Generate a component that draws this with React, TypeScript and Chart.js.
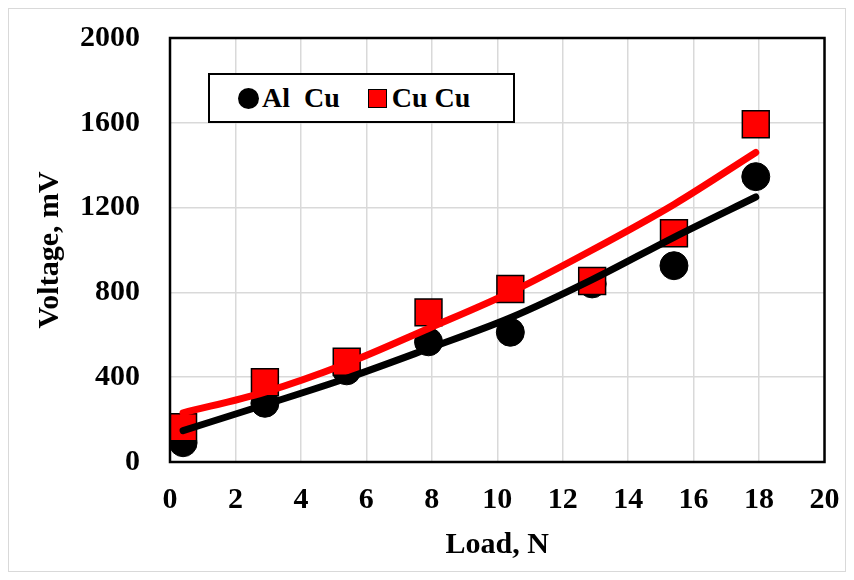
import React, { useEffect, useRef } from "react";
import { Chart, registerables } from "chart.js";

Chart.register(...registerables);

const loads = [0.4, 2.9, 5.4, 7.9, 10.4, 12.9, 15.4, 17.9];
const alCu = [91, 277, 430, 567, 612, 840, 926, 1346];
const cuCu = [164, 376, 473, 706, 816, 854, 1079, 1593];
const alCuTrend = [148, 270, 395, 535, 680, 860, 1060, 1250];
const cuCuTrend = [232, 330, 465, 630, 800, 1000, 1215, 1460];
const xTicks = [0, 2, 4, 6, 8, 10, 12, 14, 16, 18, 20];
const yTicks = [0, 400, 800, 1200, 1600, 2000];

const FONT = "'Liberation Serif', 'Times New Roman', serif";

const pts = (xs: number[], ys: number[]) => xs.map((x, i) => ({ x, y: ys[i] }));

const borderPlugin = {
  id: "plotBorder",
  afterDatasetsDraw(chart: any) {
    const { ctx, chartArea } = chart;
    ctx.save();
    ctx.strokeStyle = "#000";
    ctx.lineWidth = 2.5;
    ctx.strokeRect(chartArea.left, chartArea.top, chartArea.right - chartArea.left, chartArea.bottom - chartArea.top);
    ctx.restore();
  },
};

export default function App() {
  const ref = useRef<HTMLCanvasElement>(null);
  useEffect(() => {
    if (!ref.current) return;
    const chart = new Chart(ref.current, {
      type: "scatter",
      data: {
        datasets: [
          {
            label: "Al  Cu",
            data: pts(loads, alCu),
            pointStyle: "circle",
            pointRadius: 14,
            pointBackgroundColor: "#000",
            pointBorderColor: "#000",
            showLine: false,
            order: 4,
          },
          {
            label: "Cu Cu",
            data: pts(loads, cuCu),
            pointStyle: "rect",
            pointRadius: 19,
            pointBackgroundColor: "#ff0000",
            pointBorderColor: "#000",
            pointBorderWidth: 1.5,
            showLine: false,
            order: 3,
          },
          {
            label: "Al Cu trend",
            data: pts(loads, alCuTrend),
            showLine: true,
            borderColor: "#000",
            borderWidth: 7,
            borderCapStyle: "round",
            pointRadius: 0,
            cubicInterpolationMode: "monotone",
            order: 2,
          },
          {
            label: "Cu Cu trend",
            data: pts(loads, cuCuTrend),
            showLine: true,
            borderColor: "#ff0000",
            borderWidth: 7,
            borderCapStyle: "round",
            pointRadius: 0,
            cubicInterpolationMode: "monotone",
            order: 1,
          },
        ],
      } as any,
      options: {
        animation: false,
        responsive: false,
        maintainAspectRatio: false,
        layout: { padding: { top: 29, right: 18, left: 0, bottom: 0 } },
        plugins: { legend: { display: false }, tooltip: { enabled: false } },
        scales: {
          x: {
            type: "linear",
            min: 0,
            max: 20,
            afterBuildTicks: (s: any) => {
              s.ticks = xTicks.map((v) => ({ value: v }));
            },
            afterFit: (s: any) => {
              s.height = 109;
              s.paddingLeft = 0;
              s.paddingRight = 0;
            },
            ticks: {
              color: "#000",
              padding: 20,
              callback: (v: any) => String(v),
              font: { family: FONT, size: 30, weight: "bold" },
            },
            grid: { color: "#d9d9d9", lineWidth: 1.5, drawTicks: false },
            border: { display: false },
            title: {
              display: true,
              text: "Load, N",
              color: "#000",
              font: { family: FONT, size: 30, weight: "bold" },
              padding: { top: 0, bottom: 8 },
            },
          },
          y: {
            type: "linear",
            min: 0,
            max: 2000,
            afterBuildTicks: (s: any) => {
              s.ticks = yTicks.map((v) => ({ value: v }));
            },
            afterFit: (s: any) => {
              s.width = 161;
              s.paddingTop = 0;
              s.paddingBottom = 0;
            },
            ticks: {
              color: "#000",
              padding: 30,
              callback: (v: any) => String(v),
              font: { family: FONT, size: 30, weight: "bold" },
            },
            grid: { color: "#d9d9d9", lineWidth: 1.5, drawTicks: false },
            border: { display: false },
            title: {
              display: true,
              text: "Voltage, mV",
              color: "#000",
              font: { family: FONT, size: 30, weight: "bold" },
              padding: { top: 23, bottom: 0 },
            },
          },
        },
      } as any,
      plugins: [borderPlugin],
    });
    return () => chart.destroy();
  }, []);

  return (
    <div
      style={{
        position: "relative",
        width: 836,
        height: 562,
        border: "1px solid #d9d9d9",
        background: "#fff",
      }}
    >
      <canvas ref={ref} width={836} height={562} style={{ display: "block", width: 836, height: 562 }} />
      <div
        style={{
          position: "absolute",
          left: 199,
          top: 64,
          width: 303,
          height: 46,
          border: "2px solid #000",
          background: "#fff",
          display: "flex",
          alignItems: "center",
          fontFamily: FONT,
          fontWeight: "bold",
          fontSize: 28,
          color: "#000",
          whiteSpace: "pre",
        }}
      >
        <span
          style={{
            display: "inline-block",
            width: 21,
            height: 21,
            borderRadius: "50%",
            background: "#000",
            marginLeft: 28,
            marginRight: 3,
          }}
        />
        <span>{"Al  Cu"}</span>
        <span
          style={{
            display: "inline-block",
            width: 17,
            height: 17,
            background: "#ff0000",
            border: "1px solid #000",
            marginLeft: 28,
            marginRight: 5,
          }}
        />
        <span>{"Cu Cu"}</span>
      </div>
    </div>
  );
}
